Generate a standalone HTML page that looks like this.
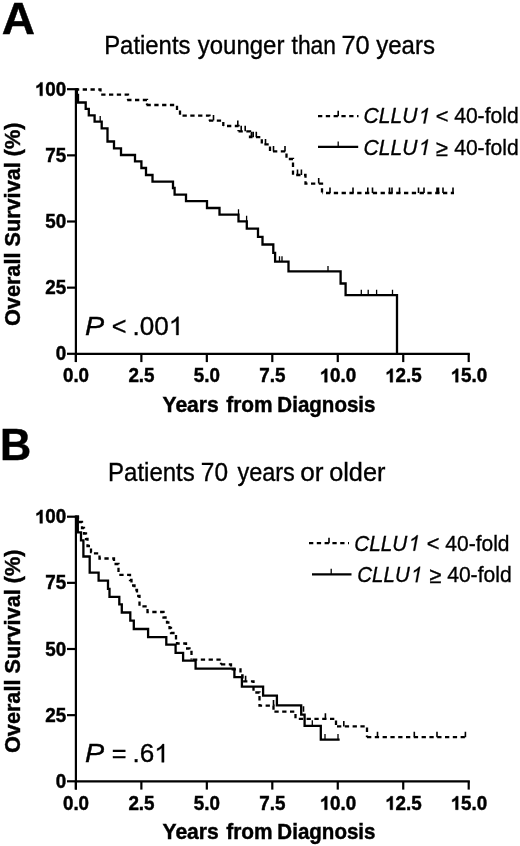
<!DOCTYPE html>
<html><head><meta charset="utf-8"><title>Survival curves</title><style>
html,body{margin:0;padding:0;background:#fff;}
svg{display:block;}
text{font-family:"Liberation Sans",sans-serif;fill:#000;stroke:#000;stroke-width:0.35px;}
body{filter:grayscale(1);}
.pl{font-size:45.5px;font-weight:bold;}
.ti{font-size:25px;}
.yl{font-size:22px;font-weight:bold;}
.xl{font-size:21.5px;font-weight:bold;}
.tk{font-size:19.5px;font-weight:bold;}
.tk,text[font-weight="bold"]{stroke:#000;stroke-width:0.45px;}
.o1b{stroke:#000;stroke-width:47px;}
.o1r{stroke:#000;stroke-width:29px;}
.lg{font-size:21px;}
.pv{font-size:25.5px;}
</style></head>
<body><svg width="520" height="846" viewBox="0 0 520 846">
<rect width="520" height="846" fill="#fff"/>
<text transform="translate(1.65,34) scale(1.034,1)" font-size="44.5" font-weight="bold">A</text>
<text transform="translate(0.09,460) scale(0.9703,1)" font-size="44.5" font-weight="bold">B</text>
<text transform="translate(104.2,53.8) scale(0.9551,1)" font-size="25">Patients</text>
<text transform="translate(197.81,53.8) scale(0.9587,1)" font-size="25">younger</text>
<text transform="translate(291.53,53.8) scale(0.914,1)" font-size="25">than</text>
<text transform="translate(341.48,53.8) scale(1.0156,1)" font-size="25">70</text>
<text transform="translate(376.21,53.8) scale(0.9598,1)" font-size="25">years</text>
<text transform="translate(108.09,480.6) scale(0.9597,1)" font-size="25">Patients</text>
<text transform="translate(200.83,480.6) scale(0.9766,1)" font-size="25">70</text>
<text transform="translate(237.42,480.6) scale(0.9397,1)" font-size="25">years</text>
<text transform="translate(300.24,480.6) scale(1.0483,1)" font-size="25">or</text>
<text transform="translate(329.19,480.6) scale(1.0112,1)" font-size="25">older</text>
<text transform="translate(162.52,411.9) scale(0.9802,1)" font-size="21.5" font-weight="bold">Years</text>
<text transform="translate(226.31,411.9) scale(0.9697,1)" font-size="21.5" font-weight="bold">from</text>
<text transform="translate(277.37,411.9) scale(0.9551,1)" font-size="21.5" font-weight="bold">Diagnosis</text>
<text transform="translate(162.52,838.9) scale(0.9802,1)" font-size="21.5" font-weight="bold">Years</text>
<text transform="translate(226.31,838.9) scale(0.9697,1)" font-size="21.5" font-weight="bold">from</text>
<text transform="translate(277.37,838.9) scale(0.9551,1)" font-size="21.5" font-weight="bold">Diagnosis</text>
<text transform="translate(363.48,123.4) scale(0.9369,1)" font-size="22.5" font-style="italic">CLLU</text><path transform="translate(417.38,123.4) scale(0.01029,-0.01099)" d="M763.0,0.0L583.0,0.0L802.8,1099.0Q726.0,1040.0 608.1,980.5Q490.2,921.0 399.3,891.4L432.6,1058.0Q597.2,1126.0 729.6,1223.0Q862.0,1320.0 926.8,1409.0L1044.8,1409.0Z" class="o1r"/>
<text transform="translate(435.73,123.2) scale(0.972,0.9)" font-size="22.5">&lt;</text>
<text transform="translate(454.16,123.4) scale(0.9379,1)" font-size="22.5">40-fold</text>
<text transform="translate(363.48,154.9) scale(0.9369,1)" font-size="22.5" font-style="italic">CLLU</text><path transform="translate(417.38,154.9) scale(0.01029,-0.01099)" d="M763.0,0.0L583.0,0.0L802.8,1099.0Q726.0,1040.0 608.1,980.5Q490.2,921.0 399.3,891.4L432.6,1058.0Q597.2,1126.0 729.6,1223.0Q862.0,1320.0 926.8,1409.0L1044.8,1409.0Z" class="o1r"/>
<text transform="translate(435.83,155.7) scale(0.972,1)" font-size="22.5">&#8805;</text>
<text transform="translate(454.16,154.9) scale(0.9379,1)" font-size="22.5">40-fold</text>
<text transform="translate(354.3,550.7) scale(0.9219,1)" font-size="22.5" font-style="italic">CLLU</text><path transform="translate(407.34,550.7) scale(0.01013,-0.01099)" d="M763.0,0.0L583.0,0.0L802.8,1099.0Q726.0,1040.0 608.1,980.5Q490.2,921.0 399.3,891.4L432.6,1058.0Q597.2,1126.0 729.6,1223.0Q862.0,1320.0 926.8,1409.0L1044.8,1409.0Z" class="o1r"/>
<text transform="translate(426.73,550.7) scale(0.972,1)" font-size="22.5">&lt;</text>
<text transform="translate(445.37,550.7) scale(0.9333,1)" font-size="22.5">40-fold</text>
<text transform="translate(357.32,582.2) scale(0.9114,1)" font-size="22.5" font-style="italic">CLLU</text><path transform="translate(409.75,582.2) scale(0.01001,-0.01099)" d="M763.0,0.0L583.0,0.0L802.8,1099.0Q726.0,1040.0 608.1,980.5Q490.2,921.0 399.3,891.4L432.6,1058.0Q597.2,1126.0 729.6,1223.0Q862.0,1320.0 926.8,1409.0L1044.8,1409.0Z" class="o1r"/>
<text transform="translate(429.13,582.5) scale(0.972,1)" font-size="22.5">&#8805;</text>
<text transform="translate(447.16,582.2) scale(0.9379,1)" font-size="22.5">40-fold</text>
<text transform="translate(85.01,335) scale(1.0854,1)" font-size="26.5" font-style="italic">P</text>
<text transform="translate(111.67,335) scale(0.9524,1)" font-size="26.5">&lt;</text>
<text transform="translate(132.54,335) scale(0.985,1)" font-size="26.5">.00</text><path transform="translate(168.83,335) scale(0.01275,-0.01294)" d="M763,0H583V1099Q518,1040 412,980.5Q306,921 221,891.4V1058Q372,1126 485,1223Q598,1320 645,1409H763Z" class="o1r"/>
<text transform="translate(85.01,762.3) scale(1.0854,1)" font-size="26.5" font-style="italic">P</text>
<text transform="translate(111.67,762.3) scale(0.9524,1)" font-size="26.5">=</text>
<text transform="translate(132.54,762.3) scale(0.985,1)" font-size="26.5">.6</text><path transform="translate(154.32,762.3) scale(0.01275,-0.01294)" d="M763,0H583V1099Q518,1040 412,980.5Q306,921 221,891.4V1058Q372,1126 485,1223Q598,1320 645,1409H763Z" class="o1r"/>
<text transform="translate(20.0,326) rotate(-90) scale(0.942,0.95)" font-size="23" font-weight="bold">Overall Survival (%)</text>
<text transform="translate(20.0,753) rotate(-90) scale(0.942,0.95)" font-size="23" font-weight="bold">Overall Survival (%)</text>
<line x1="75.9" y1="88.2" x2="75.9" y2="362.1" stroke="#000" stroke-width="2.2"/>
<line x1="74.9" y1="353.8" x2="469.8" y2="353.8" stroke="#000" stroke-width="2.2"/>
<line x1="67" y1="353.8" x2="75.9" y2="353.8" stroke="#000" stroke-width="2.2"/>
<line x1="67" y1="287.65" x2="75.9" y2="287.65" stroke="#000" stroke-width="2.2"/>
<line x1="67" y1="221.5" x2="75.9" y2="221.5" stroke="#000" stroke-width="2.2"/>
<line x1="67" y1="155.35" x2="75.9" y2="155.35" stroke="#000" stroke-width="2.2"/>
<line x1="67" y1="89.2" x2="75.9" y2="89.2" stroke="#000" stroke-width="2.2"/>
<line x1="75.9" y1="353.8" x2="75.9" y2="362.1" stroke="#000" stroke-width="2.2"/>
<line x1="141.37" y1="353.8" x2="141.37" y2="362.1" stroke="#000" stroke-width="2.2"/>
<line x1="206.83" y1="353.8" x2="206.83" y2="362.1" stroke="#000" stroke-width="2.2"/>
<line x1="272.3" y1="353.8" x2="272.3" y2="362.1" stroke="#000" stroke-width="2.2"/>
<line x1="337.77" y1="353.8" x2="337.77" y2="362.1" stroke="#000" stroke-width="2.2"/>
<line x1="403.23" y1="353.8" x2="403.23" y2="362.1" stroke="#000" stroke-width="2.2"/>
<line x1="468.7" y1="353.8" x2="468.7" y2="362.1" stroke="#000" stroke-width="2.2"/>
<text transform="translate(66.2,360.4) scale(0.965,1)" class="tk" text-anchor="end">0</text>
<text transform="translate(66.2,294.25) scale(0.965,1)" class="tk" text-anchor="end">25</text>
<text transform="translate(66.2,228.1) scale(0.965,1)" class="tk" text-anchor="end">50</text>
<text transform="translate(66.2,161.95) scale(0.965,1)" class="tk" text-anchor="end">75</text>
<path transform="translate(34.79,95.8) scale(0.00919,-0.00952)" d="M834,0H553V1015Q399,877 190,811V1055Q300,1090 364.5,1138Q429,1186 493.5,1234Q558,1282 606,1409H834Z" class="o1b"/>
<text transform="translate(45.27,95.8) scale(0.965,1)" class="tk">00</text>
<text transform="translate(76,382.2) scale(0.965,1)" class="tk" text-anchor="middle">0.0</text>
<text transform="translate(141.47,382.2) scale(0.965,1)" class="tk" text-anchor="middle">2.5</text>
<text transform="translate(206.93,382.2) scale(0.965,1)" class="tk" text-anchor="middle">5.0</text>
<text transform="translate(272.4,382.2) scale(0.965,1)" class="tk" text-anchor="middle">7.5</text>
<path transform="translate(319.55,382.2) scale(0.00919,-0.00952)" d="M834,0H553V1015Q399,877 190,811V1055Q300,1090 364.5,1138Q429,1186 493.5,1234Q558,1282 606,1409H834Z" class="o1b"/>
<text transform="translate(330.03,382.2) scale(0.965,1)" class="tk">0.0</text>
<path transform="translate(385.02,382.2) scale(0.00919,-0.00952)" d="M834,0H553V1015Q399,877 190,811V1055Q300,1090 364.5,1138Q429,1186 493.5,1234Q558,1282 606,1409H834Z" class="o1b"/>
<text transform="translate(395.5,382.2) scale(0.965,1)" class="tk">2.5</text>
<path transform="translate(450.49,382.2) scale(0.00919,-0.00952)" d="M834,0H553V1015Q399,877 190,811V1055Q300,1090 364.5,1138Q429,1186 493.5,1234Q558,1282 606,1409H834Z" class="o1b"/>
<text transform="translate(460.97,382.2) scale(0.965,1)" class="tk">5.0</text>
<line x1="75.9" y1="515.7" x2="75.9" y2="789.6" stroke="#000" stroke-width="2.2"/>
<line x1="74.9" y1="781.3" x2="469.8" y2="781.3" stroke="#000" stroke-width="2.2"/>
<line x1="67" y1="781.3" x2="75.9" y2="781.3" stroke="#000" stroke-width="2.2"/>
<line x1="67" y1="715.15" x2="75.9" y2="715.15" stroke="#000" stroke-width="2.2"/>
<line x1="67" y1="649" x2="75.9" y2="649" stroke="#000" stroke-width="2.2"/>
<line x1="67" y1="582.85" x2="75.9" y2="582.85" stroke="#000" stroke-width="2.2"/>
<line x1="67" y1="516.7" x2="75.9" y2="516.7" stroke="#000" stroke-width="2.2"/>
<line x1="75.9" y1="781.3" x2="75.9" y2="789.6" stroke="#000" stroke-width="2.2"/>
<line x1="141.37" y1="781.3" x2="141.37" y2="789.6" stroke="#000" stroke-width="2.2"/>
<line x1="206.83" y1="781.3" x2="206.83" y2="789.6" stroke="#000" stroke-width="2.2"/>
<line x1="272.3" y1="781.3" x2="272.3" y2="789.6" stroke="#000" stroke-width="2.2"/>
<line x1="337.77" y1="781.3" x2="337.77" y2="789.6" stroke="#000" stroke-width="2.2"/>
<line x1="403.23" y1="781.3" x2="403.23" y2="789.6" stroke="#000" stroke-width="2.2"/>
<line x1="468.7" y1="781.3" x2="468.7" y2="789.6" stroke="#000" stroke-width="2.2"/>
<text transform="translate(66.2,787.9) scale(0.965,1)" class="tk" text-anchor="end">0</text>
<text transform="translate(66.2,721.75) scale(0.965,1)" class="tk" text-anchor="end">25</text>
<text transform="translate(66.2,655.6) scale(0.965,1)" class="tk" text-anchor="end">50</text>
<text transform="translate(66.2,589.45) scale(0.965,1)" class="tk" text-anchor="end">75</text>
<path transform="translate(34.79,523.3) scale(0.00919,-0.00952)" d="M834,0H553V1015Q399,877 190,811V1055Q300,1090 364.5,1138Q429,1186 493.5,1234Q558,1282 606,1409H834Z" class="o1b"/>
<text transform="translate(45.27,523.3) scale(0.965,1)" class="tk">00</text>
<text transform="translate(76,809.7) scale(0.965,1)" class="tk" text-anchor="middle">0.0</text>
<text transform="translate(141.47,809.7) scale(0.965,1)" class="tk" text-anchor="middle">2.5</text>
<text transform="translate(206.93,809.7) scale(0.965,1)" class="tk" text-anchor="middle">5.0</text>
<text transform="translate(272.4,809.7) scale(0.965,1)" class="tk" text-anchor="middle">7.5</text>
<path transform="translate(319.55,809.7) scale(0.00919,-0.00952)" d="M834,0H553V1015Q399,877 190,811V1055Q300,1090 364.5,1138Q429,1186 493.5,1234Q558,1282 606,1409H834Z" class="o1b"/>
<text transform="translate(330.03,809.7) scale(0.965,1)" class="tk">0.0</text>
<path transform="translate(385.02,809.7) scale(0.00919,-0.00952)" d="M834,0H553V1015Q399,877 190,811V1055Q300,1090 364.5,1138Q429,1186 493.5,1234Q558,1282 606,1409H834Z" class="o1b"/>
<text transform="translate(395.5,809.7) scale(0.965,1)" class="tk">2.5</text>
<path transform="translate(450.49,809.7) scale(0.00919,-0.00952)" d="M834,0H553V1015Q399,877 190,811V1055Q300,1090 364.5,1138Q429,1186 493.5,1234Q558,1282 606,1409H834Z" class="o1b"/>
<text transform="translate(460.97,809.7) scale(0.965,1)" class="tk">5.0</text>
<path d="M76.9,89.2V95H78V102.5H85.7V108.8H88.8V115.4H94.6V121.6H101.7V128.4H107.5V141.5H114V148.3H121V155H135V161.4H141.4V168H146V175H152.5V181.6H173V188H174.6V194.6H186V201.2H207V208H219.5V214.7H238.5V221.3H246.8V228.7H258V236.8H262.5V244.5H273.3V252.9H275.1V261.7H288.5V271.4H340.6V283.5H345.6V295.2H397V353.8" fill="none" stroke="#000" stroke-width="2.3" stroke-linejoin="miter" stroke-linecap="square"/>
<path d="M100.2,121.6V116.1M238.5,214.7V209.2M246.6,221.3V215.8M279.5,261.7V256.2M282,261.7V256.2M328,271.4V265.9M361.3,295.2V289.7M368.2,295.2V289.7M376.6,295.2V289.7M392.5,295.2V289.7" fill="none" stroke="#000" stroke-width="1.3"/>
<path d="M76,89.5H100.5V94.7" fill="none" stroke="#000" stroke-width="2.3" stroke-dasharray="4.3 3.5" stroke-dashoffset="1.1"/>
<path d="M100.5,94.7H128V100" fill="none" stroke="#000" stroke-width="2.3" stroke-dasharray="4.3 3.5" stroke-dashoffset="7.1"/>
<path d="M127.2,100H147V105" fill="none" stroke="#000" stroke-width="2.3" stroke-dasharray="4.3 3.5" stroke-dashoffset="0"/>
<path d="M146.5,105H177V110H180V115.6" fill="none" stroke="#000" stroke-width="2.3" stroke-dasharray="4.3 3.5" stroke-dashoffset="0"/>
<path d="M180,115.6H209.5V120.6" fill="none" stroke="#000" stroke-width="2.3" stroke-dasharray="4.3 3.5" stroke-dashoffset="5.3"/>
<path d="M209,120.6H223.3V126" fill="none" stroke="#000" stroke-width="2.3" stroke-dasharray="4.3 3.5" stroke-dashoffset="0"/>
<path d="M223.3,126H238.5V131.3" fill="none" stroke="#000" stroke-width="2.3" stroke-dasharray="4.3 3.5" stroke-dashoffset="4.1"/>
<path d="M238.5,131.3H250V137.2H261.8V144.4H270V151.4H286.5V159H293V175H305.5V183.6H322V193" fill="none" stroke="#000" stroke-width="2.3" stroke-dasharray="4.3 3.5" stroke-dashoffset="0"/>
<path d="M322,193H454" fill="none" stroke="#000" stroke-width="2.3" stroke-dasharray="4.3 3.5" stroke-dashoffset="3.8"/>
<path d="M213.5,120.6V115.1M237.8,126V120.5M241.2,131.3V125.8M245.2,131.3V125.8M251.4,137.2V131.7M253.2,137.2V131.7M256.3,137.2V131.7M265.5,144.4V138.9M273.5,151.4V145.9M285,151.4V145.9M297.5,175V169.5M301.4,175V169.5M318.7,183.6V178.1M330,193V187.5M353,193V187.5M367.8,193V187.5M372.5,193V187.5M389.5,193V187.5M392,193V187.5M399.5,193V187.5M418.5,193V187.5M424,193V187.5M437,193V187.5M438.5,193V187.5M443,193V187.5M453,193V187.5" fill="none" stroke="#000" stroke-width="1.6"/>
<path d="M76,516.7H77.8V532.3H81V540.3H83.4V556.5H89.7V572.6H98.6V580.6H108V588.8H109.5V596.9H119.3V604.4H121.8V612.5H130.3V620.6H133.8V629H148.1V637.1H166.3V644.6H175.6V652.9H183.1V660.6H195.6V668.6H234.4V677.2H241.9V686.6H263.1V695.6H276.9V705.4H301.2V714.6H304.6V725.8H320.8V739.6H338.5" fill="none" stroke="#000" stroke-width="2.3" stroke-linejoin="miter" stroke-linecap="square"/>
<path d="M312.3,725.8V720.3M325,739.6V734.1M338,739.6V734.1" fill="none" stroke="#000" stroke-width="1.3"/>
<path d="M76,516.7H78V522H82V528H84V533.5H86V539H87.5V546H91V552H93V553.4H99.5V558.5H114V564H118.5V574.8H130V580H131.5V585.5H134.5V590H137V596H139.5V606.3H147.5V612H163.5V617.5H167V622.5H169.5V628H171V633H176V641H177V643.5H186V648.5H189.5V652H191.5V659.6" fill="none" stroke="#000" stroke-width="2.3" stroke-dasharray="4.3 3.5" stroke-dashoffset="0"/>
<path d="M191.5,659.6H221V664.4" fill="none" stroke="#000" stroke-width="2.3" stroke-dasharray="4.3 3.5" stroke-dashoffset="6.3"/>
<path d="M221,664.4H231V669.4H240.5V675.5H242.5V681.3H253.5V692.5H259.5V705.6H273.5V711.7" fill="none" stroke="#000" stroke-width="2.3" stroke-dasharray="4.3 3.5" stroke-dashoffset="0"/>
<path d="M273.5,711.7H295.5V718.8" fill="none" stroke="#000" stroke-width="2.3" stroke-dasharray="4.3 3.5" stroke-dashoffset="6.9"/>
<path d="M295.5,718.8H336V726.4" fill="none" stroke="#000" stroke-width="2.3" stroke-dasharray="4.3 3.5" stroke-dashoffset="4.5"/>
<path d="M336,726.4H367V737.2" fill="none" stroke="#000" stroke-width="2.3" stroke-dasharray="4.3 3.5" stroke-dashoffset="6.8"/>
<path d="M367,737.2H465.4" fill="none" stroke="#000" stroke-width="2.3" stroke-dasharray="4.3 3.5" stroke-dashoffset="0"/>
<path d="M245.6,681.3V675.8M273.5,705.6V700.1M303.5,711.7V706.2M325.4,718.8V713.3M343.8,726.4V720.9M377.5,737.2V731.7M414.3,737.2V731.7M437,737.2V731.7M465.4,737.2V731.7" fill="none" stroke="#000" stroke-width="1.6"/>
<line x1="318" y1="116.2" x2="358.5" y2="116.2" stroke="#000" stroke-width="2.3" stroke-dasharray="4.3 3.5"/>
<line x1="338.2" y1="116.2" x2="338.2" y2="110.7" stroke="#000" stroke-width="1.6"/>
<line x1="318" y1="146.9" x2="358.2" y2="146.9" stroke="#000" stroke-width="2.3"/>
<line x1="338.2" y1="146.9" x2="338.2" y2="141.4" stroke="#000" stroke-width="1.3"/>
<line x1="309" y1="543.2" x2="349" y2="543.2" stroke="#000" stroke-width="2.3" stroke-dasharray="4.3 3.5"/>
<line x1="329" y1="543.2" x2="329" y2="537.7" stroke="#000" stroke-width="1.6"/>
<line x1="312" y1="574.3" x2="351.5" y2="574.3" stroke="#000" stroke-width="2.3"/>
<line x1="331.2" y1="574.3" x2="331.2" y2="568.8" stroke="#000" stroke-width="1.3"/>
</svg></body></html>
